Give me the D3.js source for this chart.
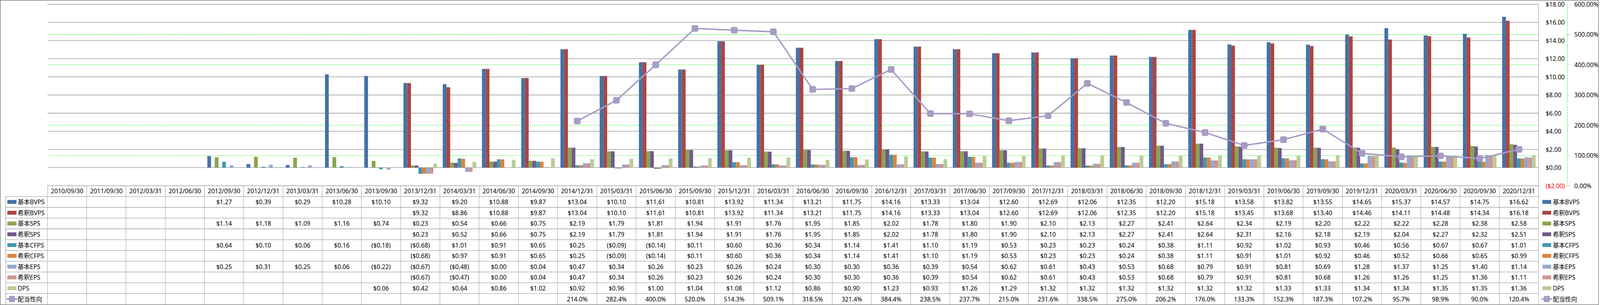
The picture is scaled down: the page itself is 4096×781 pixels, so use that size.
<!DOCTYPE html>
<html><head><meta charset="utf-8">
<script src="https://cdn.jsdelivr.net/npm/d3@7"></script>
<style>html,body{margin:0;padding:0;background:#fff;overflow:hidden}</style>
</head><body><svg id="c"></svg>
<script>
const dates = ["2010/09/30","2011/09/30","2012/03/31","2012/06/30","2012/09/30","2012/12/31","2013/03/31","2013/06/30","2013/09/30","2013/12/31","2014/03/31","2014/06/30","2014/09/30","2014/12/31","2015/03/31","2015/06/30","2015/09/30","2015/12/31","2016/03/31","2016/06/30","2016/09/30","2016/12/31","2017/03/31","2017/06/30","2017/09/30","2017/12/31","2018/03/31","2018/06/30","2018/09/30","2018/12/31","2019/03/31","2019/06/30","2019/09/30","2019/12/31","2020/03/31","2020/06/30","2020/09/30","2020/12/31"];
const seriesNames = ["基本BVPS","希釈BVPS","基本SPS","希釈SPS","基本CFPS","希釈CFPS","基本EPS","希釈EPS","DPS"];
const lineName = "配当性向";
const _ = null;
const basicBVPS = [_,_,_,_,1.27,0.39,0.29,10.28,10.10,9.32,9.20,10.88,9.87,13.04,10.10,11.61,10.81,13.92,11.34,13.21,11.75,14.16,13.33,13.04,12.60,12.69,12.06,12.35,12.20,15.18,13.58,13.82,13.55,14.65,15.37,14.57,14.75,16.62];
const dilutedBVPS = [_,_,_,_,_,_,_,_,_,9.32,8.86,10.88,9.87,13.04,10.10,11.61,10.81,13.92,11.34,13.21,11.75,14.16,13.33,13.04,12.60,12.69,12.06,12.35,12.20,15.18,13.45,13.68,13.40,14.46,14.11,14.48,14.34,16.18];
const basicSPS = [_,_,_,_,1.14,1.18,1.09,1.16,0.74,0.23,0.54,0.66,0.75,2.19,1.79,1.81,1.94,1.91,1.76,1.95,1.85,2.02,1.78,1.80,1.90,2.10,2.13,2.27,2.41,2.64,2.34,2.19,2.20,2.22,2.22,2.28,2.38,2.58];
const dilutedSPS = [_,_,_,_,_,_,_,_,_,0.23,0.52,0.66,0.75,2.19,1.79,1.81,1.94,1.91,1.76,1.95,1.85,2.02,1.78,1.80,1.90,2.10,2.13,2.27,2.41,2.64,2.31,2.16,2.18,2.19,2.04,2.27,2.32,2.51];
const basicCFPS = [_,_,_,_,0.64,0.10,0.06,0.16,-0.18,-0.68,1.01,0.91,0.65,0.25,-0.09,-0.14,0.11,0.60,0.36,0.34,1.14,1.41,1.10,1.19,0.53,0.23,0.23,0.24,0.38,1.11,0.92,1.02,0.93,0.46,0.56,0.67,0.67,1.01];
const dilutedCFPS = [_,_,_,_,_,_,_,_,_,-0.68,0.97,0.91,0.65,0.25,-0.09,-0.14,0.11,0.60,0.36,0.34,1.14,1.41,1.10,1.19,0.53,0.23,0.23,0.24,0.38,1.11,0.91,1.01,0.92,0.46,0.52,0.66,0.65,0.99];
const basicEPS = [_,_,_,_,0.25,0.31,0.25,0.06,-0.22,-0.67,-0.48,0.00,0.04,0.47,0.34,0.26,0.23,0.26,0.24,0.30,0.30,0.36,0.39,0.54,0.62,0.61,0.43,0.53,0.68,0.79,0.91,0.81,0.69,1.28,1.37,1.25,1.40,1.14];
const dilutedEPS = [_,_,_,_,_,_,_,_,_,-0.67,-0.47,0.00,0.04,0.47,0.34,0.26,0.23,0.26,0.24,0.30,0.30,0.36,0.39,0.54,0.62,0.61,0.43,0.53,0.68,0.79,0.91,0.81,0.68,1.26,1.26,1.25,1.36,1.11];
const dps = [_,_,_,_,_,_,_,_,0.06,0.42,0.64,0.86,1.02,0.92,0.96,1.00,1.04,1.08,1.12,0.86,0.90,1.23,0.93,1.26,1.29,1.32,1.32,1.32,1.32,1.32,1.32,1.33,1.33,1.34,1.34,1.35,1.35,1.36];
const payoutRatio = [_,_,_,_,_,_,_,_,_,_,_,_,_,214.0,282.4,400.0,520.0,514.3,509.1,318.5,321.4,384.4,238.5,237.7,215.0,231.6,338.5,275.0,206.2,176.0,133.3,152.3,187.3,107.2,95.7,98.9,90.0,120.4];
const barSeries = [basicBVPS,dilutedBVPS,basicSPS,dilutedSPS,basicCFPS,dilutedCFPS,basicEPS,dilutedEPS,dps];
const colors = ["#4572A7","#AA4643","#89A54E","#71588F","#4198AF","#DB843D","#93A9CF","#D19392","#B9CD96"];
const lineColor = "#A89BC5";
const leftTicks = [-2,0,2,4,6,8,10,12,14,16,18];
const rightTicks = [0,1,2,3,4,5,6];

const W = 7863, H = 1500;
const svg = d3.select("#c").attr("width",4096).attr("height",781)
  .attr("viewBox",`0 0 ${W} ${H}`).attr("preserveAspectRatio","none");
const FONT = "'Noto Sans','Noto Sans CJK JP',sans-serif";
const FS = 30;
svg.append("rect").attr("width",W).attr("height",H).attr("fill","#fff");

const L = 233.5, R = 7561, T = 21, B = 913.5;
const x = d3.scaleBand().domain(dates).range([L,R]).paddingInner(0).paddingOuter(0);
const cw = x.bandwidth();
const xs = d3.scaleBand().domain(seriesNames).range([14, cw-14]).padding(0);
const yP = d3.scaleLinear().domain([-2,18]).range([B,T]);
const yS = d3.scaleLinear().domain([0,6]).range([B,T]);

const grid = svg.append("g");
// secondary green dashed gridlines
grid.selectAll("line.s").data(rightTicks.filter(t=>t>0)).join("line")
  .attr("x1",L).attr("x2",R).attr("y1",d=>yS(d)).attr("y2",d=>yS(d))
  .attr("stroke","#00F000").attr("stroke-width",2).attr("stroke-dasharray","6,4");
// primary gray gridlines
grid.selectAll("line.p").data(leftTicks.filter(t=>t>-2)).join("line")
  .attr("x1",L).attr("x2",R).attr("y1",d=>yP(d)).attr("y2",d=>yP(d))
  .attr("stroke","#8c8c8c").attr("stroke-width",2.5);

// bars
const bars = svg.append("g");
barSeries.forEach((ser,si)=>{
  bars.append("g").attr("fill",colors[si]).selectAll("rect")
    .data(ser.map((v,i)=>({v,d:dates[i]})).filter(o=>o.v!==null && o.v!==0))
    .join("rect")
    .attr("x",o=>x(o.d)+xs(seriesNames[si]))
    .attr("width",xs.bandwidth())
    .attr("y",o=>Math.min(yP(0),yP(o.v)))
    .attr("height",o=>Math.abs(yP(o.v)-yP(0)));
});

// primary axis line (right side)
svg.append("line").attr("x1",R).attr("x2",R).attr("y1",T).attr("y2",B)
  .attr("stroke","#8c8c8c").attr("stroke-width",2);

// line series
const pts = payoutRatio.map((v,i)=>({v,d:dates[i]})).filter(o=>o.v!==null);
const lineGen = d3.line().x(o=>x(o.d)+cw/2).y(o=>yS(o.v/100));
svg.append("path").datum(pts).attr("d",lineGen).attr("fill","none")
  .attr("stroke",lineColor).attr("stroke-width",7).attr("stroke-linejoin","round");
svg.append("g").selectAll("rect").data(pts).join("rect")
  .attr("x",o=>x(o.d)+cw/2-15).attr("y",o=>yS(o.v/100)-15)
  .attr("width",30).attr("height",30).attr("rx",6)
  .attr("fill",lineColor).attr("stroke","#9f91bd").attr("stroke-width",2);

// primary axis labels
const fmt$ = v => v<0 ? `($${Math.abs(v).toFixed(2)})` : `$${v.toFixed(2)}`;
svg.append("g").selectAll("text").data(leftTicks).join("text")
  .attr("x",7596).attr("y",d=>yP(d)).attr("dominant-baseline","central")
  .attr("font-family",FONT).attr("font-size",FS)
  .attr("fill",d=>d<0?"#FF0000":"#000").text(fmt$);

// secondary axis
const sAx = svg.append("g");
sAx.append("line").attr("x1",7703).attr("x2",7703).attr("y1",T).attr("y2",B)
  .attr("stroke","#00F000").attr("stroke-width",2).attr("stroke-dasharray","6,4");
sAx.selectAll("line.t").data(rightTicks).join("line")
  .attr("x1",7703).attr("x2",7716).attr("y1",d=>yS(d)).attr("y2",d=>yS(d))
  .attr("stroke","#00F000").attr("stroke-width",2).attr("stroke-dasharray","6,4");
sAx.selectAll("text").data(rightTicks).join("text")
  .attr("x",7737).attr("y",d=>yS(d)).attr("dominant-baseline","central")
  .attr("font-family",FONT).attr("font-size",FS).attr("fill","#000")
  .text(d=>(d*100).toFixed(2)+"%");

// data table
const tb = svg.append("g");
const rowLabels = seriesNames.concat([lineName]);
const rowH = (1497 - B)/11;
const rowY = i => B + i*rowH; // i=0 header top
const tableLine = "#8c8c8c";
// horizontal lines
tb.append("line").attr("x1",L).attr("x2",R).attr("y1",B).attr("y2",B).attr("stroke",tableLine).attr("stroke-width",2);
for(let i=1;i<=10;i++){
  tb.append("line").attr("x1",28).attr("x2",R).attr("y1",rowY(i)).attr("y2",rowY(i))
    .attr("stroke",tableLine).attr("stroke-width",2);
}
// vertical lines
tb.append("line").attr("x1",28).attr("x2",28).attr("y1",rowY(1)).attr("y2",1497).attr("stroke",tableLine).attr("stroke-width",2);
tb.selectAll("line.v").data(dates.concat(["end"])).join("line")
  .attr("x1",(d,i)=>L+i*cw).attr("x2",(d,i)=>L+i*cw)
  .attr("y1",B).attr("y2",1497).attr("stroke",tableLine).attr("stroke-width",1.6);
// header texts
tb.selectAll("text.h").data(dates).join("text")
  .attr("x",d=>x(d)+cw/2).attr("y",rowY(0)+rowH/2).attr("text-anchor","middle")
  .attr("dominant-baseline","central").attr("font-family",FONT).attr("font-size",FS)
  .text(d=>d);
// values
const allRows = barSeries.concat([payoutRatio]);
allRows.forEach((ser,ri)=>{
  const cy = rowY(ri+1)+rowH/2;
  tb.append("g").selectAll("text").data(ser.map((v,i)=>({v,d:dates[i]})).filter(o=>o.v!==null))
    .join("text").attr("x",o=>x(o.d)+cw/2).attr("y",cy).attr("text-anchor","middle")
    .attr("dominant-baseline","central").attr("font-family",FONT).attr("font-size",FS)
    .text(o=> ri===9 ? o.v.toFixed(1)+"%" : fmt$(o.v));
});

// legend keys (table left and right legend)
function drawKey(g, xKey, cy, i, w){
  if(i<9){
    g.append("rect").attr("x",xKey).attr("y",cy-9.5).attr("width",w).attr("height",19).attr("fill",colors[i]);
  } else {
    g.append("line").attr("x1",xKey-2).attr("x2",xKey+w+2).attr("y1",cy).attr("y2",cy)
      .attr("stroke",lineColor).attr("stroke-width",7).attr("stroke-linecap","round");
    g.append("rect").attr("x",xKey+w/2-14).attr("y",cy-14).attr("width",28).attr("height",28).attr("rx",5)
      .attr("fill",lineColor).attr("stroke","#9f91bd").attr("stroke-width",2);
  }
}
rowLabels.forEach((name,i)=>{
  const cy = rowY(i+1)+rowH/2;
  drawKey(tb, 36, cy, i, 45);
  tb.append("text").attr("x",87).attr("y",cy).attr("dominant-baseline","central")
    .attr("font-family",FONT).attr("font-size",FS).text(name);
  drawKey(svg, 7580, cy, i, 43);
  svg.append("text").attr("x",7631).attr("y",cy).attr("dominant-baseline","central")
    .attr("font-family",FONT).attr("font-size",FS).text(name);
});

// outer frame
svg.append("rect").attr("x",1.5).attr("y",1.5).attr("width",7854).attr("height",1497)
  .attr("fill","none").attr("stroke","#868686").attr("stroke-width",3);
</script>
</body></html>
